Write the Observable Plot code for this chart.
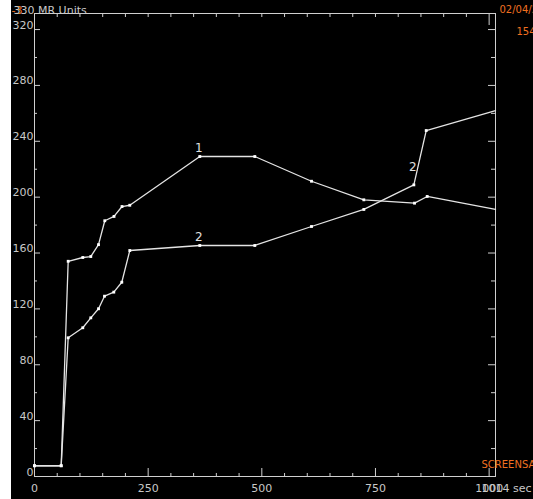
<!DOCTYPE html>
<html><head><meta charset="utf-8">
<script src="https://cdn.jsdelivr.net/npm/d3@7"></script>
<script src="https://cdn.jsdelivr.net/npm/@observablehq/plot@0.6"></script>
<style>
html,body{margin:0;padding:0;background:#fff;}
#wrap{position:relative;width:533px;height:499px;overflow:hidden;}
#bg{position:absolute;left:11px;top:0;width:522px;height:499px;background:#000;}
#chart{position:absolute;left:0;top:0;}
</style></head><body>
<div id="wrap"><div id="bg"></div><div id="chart"></div></div>
<script>
// Series 1 (curve labelled "1")
const times1  = [0, 58.7, 74.1, 106.2, 123.8, 140.8, 154.6, 174.9, 192.5, 209.6, 363.6, 484.6, 609.3, 724.4, 835.9, 863.8, 1014];
const values1 = [7.7, 7.7, 154.1, 156.8, 157.5, 166.0, 183.1, 186.2, 193.3, 194.2, 229.1, 229.1, 211.4, 198.1, 195.7, 200.5, 191.2];
// Series 2 (curve labelled "2")
const times2  = [0, 58.7, 74.1, 106.2, 123.8, 140.8, 154.0, 174.4, 192.0, 209.6, 363.6, 484.6, 609.3, 724.4, 834.4, 861.6, 1014];
const values2 = [7.7, 7.7, 99.3, 106.5, 113.6, 120.1, 129.1, 132.0, 139.1, 161.8, 165.4, 165.4, 179.0, 191.2, 208.8, 247.7, 262.0];
// Curve labels: text and index of the point they sit on
const curveLabels = [{text: "1", series: 1, index: 10}, {text: "2", series: 2, index: 10}, {text: "2", series: 2, index: 14}];
// Axis labels
const xTickLabels = [0, 250, 500, 750, 1000];
const yTickLabels = [0, 40, 80, 120, 160, 200, 240, 280, 320];
const xMinorTicks = d3.range(50, 1001, 50);
const yMinorTicks = d3.range(20, 321, 20);
const topLabel = "330 MR Units";
const xEndLabel = "1014 sec";
const dateLabel = "02/04/2";
const timeLabel = "154";
const statusLabel = "SCREENSA";

const W = 533, H = 499, mL = 34, mT = 13, mR = 38, mB = 23;
const xDom = [0, 1014], yDom = [0, 331.5];
const kx = (W - mL - mR) / (xDom[1] - xDom[0]);
const ky = (H - mT - mB) / (yDom[1] - yDom[0]);

const rows = [
  ...times1.map((t, i) => ({t, v: values1[i], s: 1, i})),
  ...times2.map((t, i) => ({t, v: values2[i], s: 2, i}))
];
const dotsRows = rows.filter(d => d.t < xDom[1]);
const labelRows = curveLabels.map(l => ({
  text: l.text,
  t: (l.series === 1 ? times1 : times2)[l.index],
  v: (l.series === 1 ? values1 : values2)[l.index],
  high: l.index === 14
}));

const axisC = "#cfcfcf", lineC = "#e4e4e4", textC = "#c8c8c8", orange = "#f07020";
const major250 = d => d % 250 === 0;
const major40 = d => d % 40 === 0;

const chart = Plot.plot({
  width: W, height: H,
  marginLeft: mL, marginTop: mT, marginRight: mR, marginBottom: mB,
  x: {domain: xDom, axis: null},
  y: {domain: yDom, axis: null},
  style: {background: "transparent", fontFamily: "DejaVu Sans", fontSize: "11px", overflow: "visible"},
  marks: [
    Plot.frame({stroke: axisC, strokeWidth: 1}),
    // bottom ticks (pointing up)
    Plot.ruleX(xMinorTicks, {x: d => d, y1: 0, y2: d => (major250(d) ? 8 : 3) / ky, stroke: axisC}),
    // top ticks (pointing down)
    Plot.ruleX(xMinorTicks, {x: d => d, y1: yDom[1], y2: d => yDom[1] - (d === 1000 ? 12 : 4) / ky, stroke: axisC}),
    // left ticks
    Plot.ruleY(yMinorTicks, {y: d => d, x1: 0, x2: d => (major40(d) ? 6 : 3) / kx, stroke: axisC}),
    // right ticks
    Plot.ruleY(yMinorTicks, {y: d => d, x1: xDom[1], x2: d => xDom[1] - (major40(d) ? 7 : 4) / kx, stroke: axisC}),
    // y labels
    Plot.text(yTickLabels, {x: 0, y: d => d, text: d => String(d), textAnchor: "end", lineAnchor: "bottom", dx: -1, dy: -1, fill: textC}),
    // x labels
    Plot.text(xTickLabels, {x: d => d, y: 0, text: d => String(d), textAnchor: "middle", lineAnchor: "middle", dy: 12, fill: textC}),
    Plot.text([xEndLabel], {x: xDom[1], y: 0, text: d => d, textAnchor: "start", lineAnchor: "middle", dx: -14, dy: 12, fill: textC}),
    // top-left label with orange overlay
    Plot.text(["-3"], {frameAnchor: "top-left", text: d => d, textAnchor: "start", lineAnchor: "bottom", dx: -23, dy: 0, fill: orange}),
    Plot.text([topLabel], {frameAnchor: "top-left", text: d => d, textAnchor: "start", lineAnchor: "bottom", dx: -21, dy: 0, fill: textC}),
    // orange status texts
    Plot.text([dateLabel], {frameAnchor: "top-right", text: d => d, textAnchor: "start", lineAnchor: "bottom", dx: 4, dy: -1, fill: orange, fontSize: 10}),
    Plot.text([timeLabel], {frameAnchor: "top-right", text: d => d, textAnchor: "start", lineAnchor: "bottom", dx: 21, dy: 21, fill: orange, fontSize: 10}),
    Plot.text([statusLabel], {frameAnchor: "bottom-right", text: d => d, textAnchor: "start", lineAnchor: "bottom", dx: -14, dy: -9, fill: orange, fontSize: 10}),
    // data
    Plot.line(rows, {x: "t", y: "v", z: "s", stroke: lineC, strokeWidth: 1.3}),
    Plot.dot(dotsRows, {x: "t", y: "v", symbol: "square", r: 1.6, fill: "#ffffff"}),
    Plot.text(labelRows.filter(d => !d.high), {x: "t", y: "v", text: "text", fill: "#e0e0e0", fontSize: 12, lineAnchor: "middle", dx: -1, dy: -8}),
    Plot.text(labelRows.filter(d => d.high), {x: "t", y: "v", text: "text", fill: "#e0e0e0", fontSize: 12, lineAnchor: "middle", dx: -1, dy: -18})
  ]
});
document.getElementById("chart").appendChild(chart);
</script>
</body></html>
